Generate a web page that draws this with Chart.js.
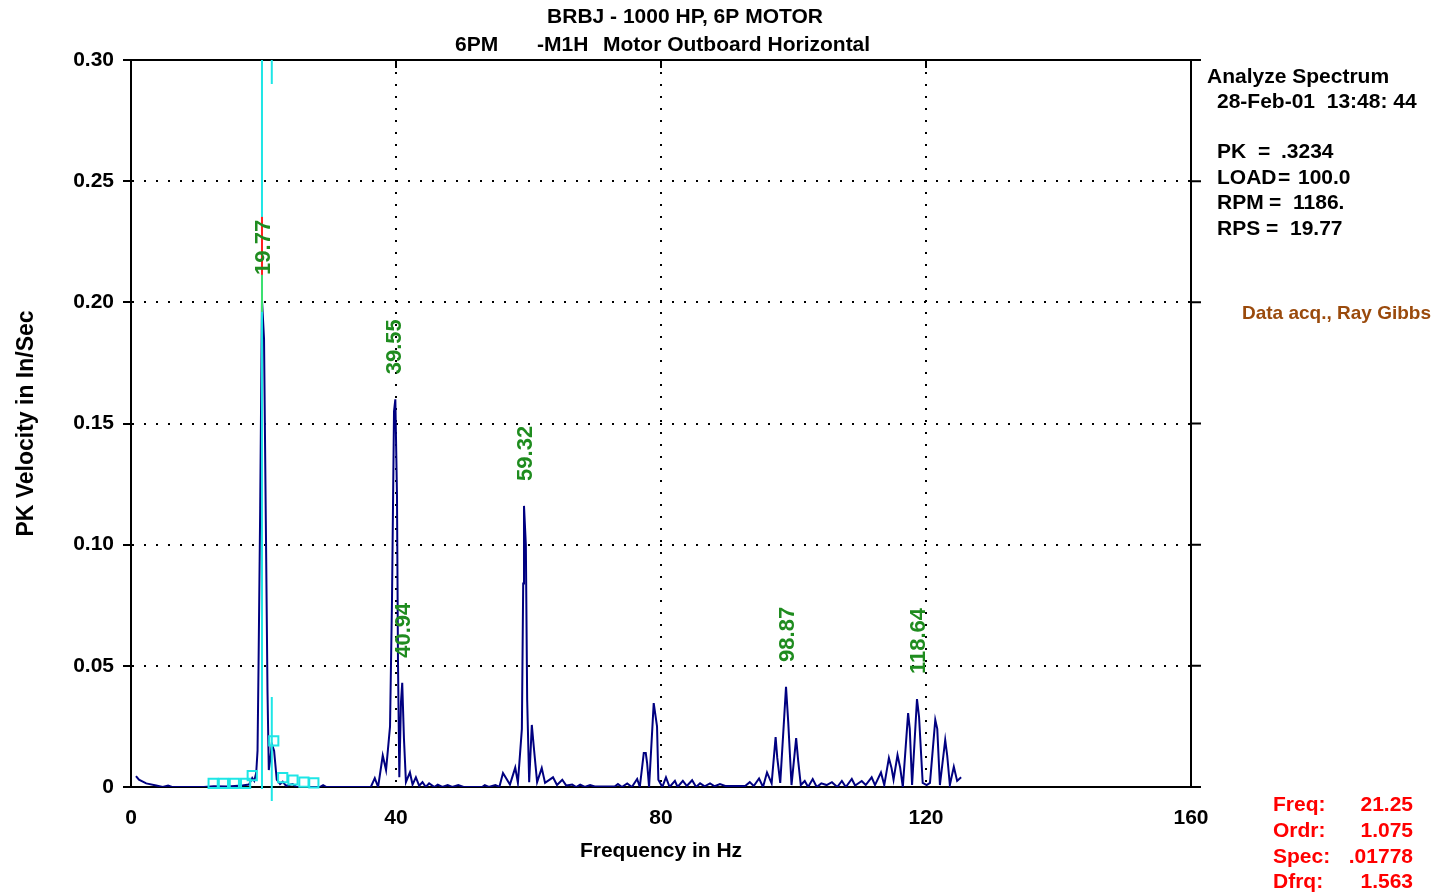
<!DOCTYPE html>
<html>
<head>
<meta charset="utf-8">
<title>BRBJ - 1000 HP, 6P MOTOR</title>
<script src="https://cdn.jsdelivr.net/npm/chart.js@4.4.1/dist/chart.umd.min.js"></script>
<style>
    html, body { margin: 0; padding: 0; background: #fff; }
    #wrap { width: 1437px; height: 895px; position: relative; }
</style>
</head>
<body>
<div id="wrap"><canvas id="chart"></canvas></div>
<script>
// Spectrum (Hz / PK in/sec)
const freqHz = [
    0.75, 1.2, 2.3, 3.8, 4.8,   5.6, 6.2, 11.0, 12.5, 14.5,
    16.8, 17.8, 18.3, 18.6, 18.9,   19.1, 19.25, 19.5, 19.77, 20.08,
    20.35, 20.6, 20.8, 21.05, 21.25,   21.6, 22.0, 22.5, 22.9, 23.4,
    24.4, 25.0, 28.5, 29.0, 29.5,
    36.2, 36.8, 37.3, 38.0, 38.5,   39.1, 39.4, 39.7, 39.9, 40.15,
    40.3, 40.5, 40.75, 40.94, 41.2,   41.5, 42.1, 42.5, 43.0, 43.5,
    44.0, 44.5, 45.0, 45.8, 46.3,   47.0, 47.8, 48.5, 49.4, 50.2,
    53.0, 53.4, 54.0, 55.0, 55.6,   56.15, 57.2, 58.0, 58.4, 59.0,
    59.2, 59.32, 59.6, 59.8, 60.1,   60.5, 60.8, 61.3, 62.0, 62.5,
    63.7, 64.3, 65.1, 65.7, 66.6,   67.2, 67.8, 68.5, 69.3, 70.0,
    73.0, 73.5, 74.1, 74.9, 75.6,   76.4, 76.8, 77.4, 77.7, 77.9,
    78.2, 78.9, 79.4, 79.6, 80.2,   80.75, 81.3, 82.1, 82.5, 83.3,
    83.9, 84.7, 85.3, 85.9, 86.6,   87.4, 88.1, 88.9, 89.7, 92.7,
    93.4, 94.0, 94.8, 95.4, 96.0,   96.7, 97.3, 97.55, 98.0, 98.6,
    98.87, 99.2, 99.7, 100.4, 100.7,   101.1, 101.7, 102.2, 102.9, 103.5,
    104.2, 105.0, 105.8, 106.6, 107.3,   107.9, 108.8, 109.3, 110.3, 110.9,
    111.8, 112.3, 113.2, 113.7, 114.4,   114.8, 115.1, 115.7, 116.1, 116.5,
    117.3, 117.55, 117.9, 118.64, 118.95,   119.5, 120.1, 120.6, 121.4, 121.7,
    122.1, 122.9, 123.2, 123.6, 124.2,   124.7, 125.3
];
const pkVelocity = [
    0.0045, 0.003, 0.0015, 0.0006, 0,   0.0006, 0, 0, 0.0003, 0.0002,
    0.0006, 0.001, 0.0037, 0.0025, 0.0058,   0.015, 0.05, 0.115, 0.201, 0.185,
    0.11, 0.04, 0.007, 0.012, 0.0178,   0.015, 0.003, 0.0012, 0.0022, 0.0005,
    0.0012, 0, 0, 0.0008, 0,
    0, 0.0037, 0, 0.013, 0.007,   0.025, 0.078, 0.155, 0.16, 0.12,
    0.052, 0.004, 0.035, 0.043, 0.02,   0.002, 0.006, 0.001, 0.004, 0.0005,
    0.002, 0, 0.0015, 0, 0.001,   0, 0.0008, 0, 0.0008, 0,
    0, 0.0008, 0, 0.0008, 0,   0.0058, 0.001, 0.008, 0.0017, 0.024,
    0.084, 0.116, 0.10, 0.036, 0.002,   0.0256, 0.0165, 0.002, 0.0078, 0.0017,
    0.004, 0.0008, 0.003, 0.0006, 0.001,   0, 0.001, 0, 0.0008, 0.0002,
    0.0002, 0.0012, 0, 0.0015, 0,   0.0033, 0, 0.014, 0.014, 0.010,
    0, 0.0346, 0.025, 0.003, 0,   0.004, 0, 0.0025, 0, 0.0025,
    0.0004, 0.0028, 0, 0.0015, 0.0003,   0.0015, 0.0003, 0.0012, 0.0004, 0.0004,
    0.002, 0.0004, 0.0035, 0, 0.006,   0.0015, 0.0206, 0.012, 0.0017, 0.029,
    0.0413, 0.027, 0.0008, 0.0202, 0.011,   0.0008, 0.0025, 0, 0.0033, 0,
    0.0015, 0.0008, 0.002, 0, 0.0025,   0, 0.0033, 0.0006, 0.0025, 0.0008,
    0.004, 0.0008, 0.006, 0.0008, 0.012,   0.0078, 0.003, 0.0132, 0.008, 0,
    0.0305, 0.024, 0.0008, 0.0363, 0.029,   0.0017, 0.0008, 0.0017, 0.0277, 0.024,
    0.0008, 0.0194, 0.013, 0.0008, 0.0083,   0.0025, 0.004
];

// labelled peaks
const peakLabelHz = [19.77, 39.55, 40.94, 59.32, 98.87, 118.64];
const peakLabelAmp = [0.201, 0.16, 0.043, 0.116, 0.0413, 0.0363];

// sideband boxes around the cursor
const markerHz = [12.4, 13.95, 15.6, 17.3, 18.3, 21.55, 22.9, 24.45, 26.1, 27.6];
const markerAmp = [0.0015, 0.0015, 0.0015, 0.0015, 0.0047, 0.019, 0.0039, 0.0029, 0.002, 0.0017];

const cursorHz = 19.77;
const harmonicCursorHz = 21.25;

const xTicks = [0, 40, 80, 120, 160];
const yTicks = [0, 0.05, 0.10, 0.15, 0.20, 0.25, 0.30];

if (freqHz.length !== pkVelocity.length) {
    console.error('spectrum arrays differ', freqHz.length, pkVelocity.length);
}

const FONT = '"Liberation Sans", Arial, sans-serif';
const CYAN = '#1ee6e6';

function put(ctx, s, x, y, size, color, align) {
    ctx.font = 'bold ' + size + 'px ' + FONT;
    ctx.fillStyle = color;
    ctx.textAlign = align || 'left';
    ctx.textBaseline = 'middle';
    ctx.fillText(s, x, y);
}

const decorPlugin = {
    id: 'decor',
    afterDraw(chart) {
        const ctx = chart.ctx;
        const area = chart.chartArea;
        const xs = chart.scales.x;
        const ys = chart.scales.y;

        ctx.save();
        // top + right frame
        ctx.strokeStyle = '#000';
        ctx.lineWidth = 2;
        ctx.beginPath();
        ctx.moveTo(area.left - 8, area.top);
        ctx.lineTo(area.right + 10, area.top);
        ctx.moveTo(area.right, area.top);
        ctx.lineTo(area.right, area.bottom);
        yTicks.forEach(v => {
            const py = ys.getPixelForValue(v);
            ctx.moveTo(area.right, py);
            ctx.lineTo(area.right + 10, py);
        });
        xTicks.slice(1, -1).forEach(v => {
            const px = xs.getPixelForValue(v);
            ctx.moveTo(px, area.top);
            ctx.lineTo(px, area.top + 8);
        });
        ctx.stroke();

        // cursors
        const cx = xs.getPixelForValue(cursorHz);
        ctx.strokeStyle = CYAN;
        ctx.lineWidth = 2;
        ctx.beginPath();
        ctx.moveTo(cx, area.top);
        ctx.lineTo(cx, area.bottom + 2);
        const hx = xs.getPixelForValue(harmonicCursorHz);
        ctx.moveTo(hx, area.top);
        ctx.lineTo(hx, area.top + 24);
        ctx.moveTo(hx, area.bottom - 90);
        ctx.lineTo(hx, area.bottom + 14);
        ctx.stroke();

        // peak labels
        peakLabelHz.forEach((f, i) => {
            const px = xs.getPixelForValue(f) + 1.5;
            const py = ys.getPixelForValue(peakLabelAmp[i]) - 25;
            if (f === cursorHz) {
                ctx.strokeStyle = '#ff2020';
                ctx.lineWidth = 2;
                ctx.beginPath();
                ctx.moveTo(cx, py);
                ctx.lineTo(cx, py - 58);
                ctx.stroke();
                ctx.strokeStyle = '#3ce070';
                ctx.beginPath();
                ctx.moveTo(cx, py);
                ctx.lineTo(cx, py + 37);
                ctx.stroke();
            }
            ctx.save();
            ctx.translate(px, py);
            ctx.rotate(-Math.PI / 2);
            put(ctx, f.toFixed(2), 0, 0, 22, '#1f8c1f', 'left');
            ctx.restore();
        });

        // titles
        put(ctx, 'BRBJ - 1000 HP, 6P MOTOR', 685, 17, 21, '#000', 'center');
        put(ctx, '6PM', 455, 45, 21, '#000');
        put(ctx, '-M1H', 537, 45, 21, '#000');
        put(ctx, 'Motor Outboard Horizontal', 603, 45, 21, '#000');

        // info panel
        put(ctx, 'Analyze Spectrum', 1207, 77, 21, '#000');
        put(ctx, '28-Feb-01  13:48: 44', 1217, 102, 21, '#000');
        const info = [
            ['PK', 1258, '.3234', 1281, 152],
            ['LOAD', 1278, '100.0', 1298, 178],
            ['RPM', 1269, '1186.', 1293, 203],
            ['RPS', 1266, '19.77', 1290, 229]
        ];
        info.forEach(r => {
            put(ctx, r[0], 1217, r[4], 21, '#000');
            put(ctx, '=', r[1], r[4], 21, '#000');
            put(ctx, r[2], r[3], r[4], 21, '#000');
        });
        put(ctx, 'Data acq., Ray Gibbs', 1242, 314, 19, '#9a4a0c');

        // cursor readout
        const readout = [
            ['Freq:', '21.25', 805],
            ['Ordr:', '1.075', 831],
            ['Spec:', '.01778', 857],
            ['Dfrq:', '1.563', 882]
        ];
        readout.forEach(r => {
            put(ctx, r[0], 1273, r[2], 21, '#ff0000');
            put(ctx, r[1], 1413, r[2], 21, '#ff0000', 'right');
        });
        ctx.restore();
    }
};

const ctx = document.querySelector('#chart').getContext('2d');
new Chart(ctx, {
    type: 'line',
    data: {
        datasets: [
            {
                label: 'Sidebands',
                type: 'scatter',
                data: markerHz.map((f, i) => ({ x: f, y: markerAmp[i] })),
                pointStyle: 'rect',
                pointRadius: 6.5,
                borderColor: CYAN,
                borderWidth: 2,
                backgroundColor: 'rgba(0,0,0,0)',
                showLine: false,
                clip: false,
            },
            {
                label: 'Spectrum',
                data: freqHz.map((f, i) => ({ x: f, y: pkVelocity[i] })),
                borderColor: '#000080',
                borderWidth: 2,
                pointRadius: 0,
                tension: 0,
                fill: false,
            },
        ],
    },
    options: {
        responsive: true,
        maintainAspectRatio: false,
        animation: false,
        layout: { padding: { top: 60, right: 246, left: 0, bottom: 0 } },
        plugins: {
            legend: { display: false },
            tooltip: { enabled: false },
        },
        scales: {
            x: {
                type: 'linear',
                min: 0,
                max: 160,
                afterBuildTicks: s => { s.ticks = xTicks.map(v => ({ value: v })); },
                afterFit: s => { s.height = 108; },
                ticks: {
                    color: '#000',
                    padding: 19,
                    maxRotation: 0,
                    font: { family: FONT, size: 21, weight: 'bold' },
                },
                grid: { color: '#000', lineWidth: 2, drawTicks: false },
                border: { display: true, color: '#000', width: 2, dash: [2, 10] },
                title: {
                    display: true,
                    text: 'Frequency in Hz',
                    color: '#000',
                    font: { family: FONT, size: 21, weight: 'bold' },
                    padding: { top: 0, bottom: 31 },
                },
            },
            y: {
                type: 'linear',
                min: 0,
                max: 0.30,
                afterBuildTicks: s => { s.ticks = yTicks.map(v => ({ value: v })); },
                afterFit: s => { s.width = 131; },
                ticks: {
                    color: '#000',
                    padding: 9,
                    font: { family: FONT, size: 21, weight: 'bold' },
                    callback: v => v === 0 ? '0' : v.toFixed(2),
                },
                grid: {
                    color: '#000',
                    lineWidth: 2,
                    drawTicks: true,
                    tickLength: 8,
                    tickWidth: 2,
                    tickColor: '#000',
                    tickBorderDash: [],
                },
                border: { display: true, color: '#000', width: 2, dash: [2, 10] },
                title: {
                    display: true,
                    text: 'PK Velocity in In/Sec',
                    color: '#000',
                    font: { family: FONT, size: 23, weight: 'bold' },
                    padding: { top: 13, bottom: 0 },
                },
            },
        },
    },
    plugins: [decorPlugin],
});
</script>
</body>
</html>
